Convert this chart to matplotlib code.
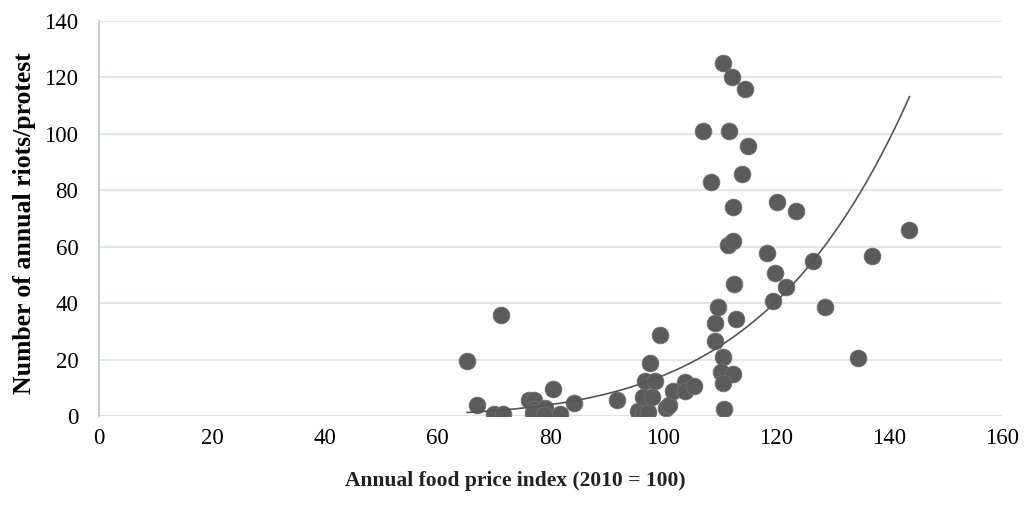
import numpy as np
import matplotlib
matplotlib.use("Agg")
import matplotlib.pyplot as plt

# annual food price index (2010 = 100) vs number of riots/protests
price_index = [
    65.2, 67.0, 69.9, 71.5, 71.2, 76.1, 77.0, 77.0, 76.8, 79.0,
    78.8, 80.5, 81.7, 84.2, 91.8, 95.5, 96.3, 97.2, 96.3, 98.0,
    96.8, 98.5, 97.6, 99.3, 100.5, 100.9, 101.6, 103.8, 103.8, 105.4,
    109.2, 109.1, 110.5, 110.2, 112.3, 110.6, 110.7, 109.7, 112.9, 112.5,
    111.4, 112.3, 112.3, 108.4, 114.0, 115.0, 107.0, 111.6, 110.6, 112.2,
    114.5, 120.1, 123.4, 118.4, 119.7, 121.8, 119.4, 126.5, 128.7, 134.5,
    137.0, 143.6,
]
riots = [
    19.6, 3.8, 0.7, 0.7, 35.7, 5.8, 5.6, 2.5, 1.0, 3.0,
    0.5, 9.5, 0.7, 4.6, 5.5, 1.8, 1.0, 1.5, 6.6, 6.6,
    12.5, 12.5, 18.9, 28.7, 2.7, 3.8, 8.7, 11.9, 8.7, 10.6,
    32.8, 26.5, 20.8, 15.7, 14.8, 11.8, 2.6, 38.7, 34.3, 46.6,
    60.7, 62.1, 73.9, 82.9, 85.8, 95.7, 100.9, 100.9, 124.9, 119.9,
    115.9, 75.9, 72.7, 57.8, 50.8, 45.8, 40.8, 54.8, 38.7, 20.7,
    56.8, 65.8,
]

# power trendline y = a * x^n
TREND_REF_X = 126.5
TREND_REF_Y = 54.9
TREND_POWER = 5.7

GRID = "#dde1e8"
DOT = "#5b5b5b"

plt.rcParams["font.family"] = ["Liberation Serif", "DejaVu Serif"]

fig = plt.figure(figsize=(10.28, 5.07), dpi=100)
ax = fig.add_axes([0.0966, 0.1795, 0.8781, 0.7797])

ax.scatter(price_index, riots, s=145, color=DOT, edgecolors="#707070",
           linewidths=0.6, zorder=3)

tx = np.linspace(min(price_index), max(price_index), 200)
ty = TREND_REF_Y * (tx / TREND_REF_X) ** TREND_POWER
ax.plot(tx, ty, color="#555555", lw=1.2, zorder=4)

ax.set_xlim(0, 160)
ax.set_ylim(0, 140)
ax.set_xticks(range(0, 161, 20))
ax.set_yticks(range(0, 141, 20))
ax.grid(axis="y", color=GRID, lw=1.2, zorder=0)
ax.set_axisbelow(True)

for side in ("top", "right", "bottom"):
    ax.spines[side].set_visible(False)
ax.spines["left"].set_color("#b9c3d4")
ax.spines["left"].set_linewidth(1.2)
ax.axhline(0, color=GRID, lw=1.5, zorder=1)

ax.tick_params(axis="both", length=0, labelsize=16.5, colors="#000000")
ax.tick_params(axis="x", pad=9)
ax.tick_params(axis="y", pad=15)

ax.set_xlabel("Annual food price index (2010 = 100)", fontsize=15.5,
              fontweight="bold", va="center", color="#222222")
ax.xaxis.set_label_coords(0.461, -0.164)
ax.set_ylabel("Number of annual riots/protest", fontsize=18.5,
              fontweight="bold", va="center", ha="center")
ax.yaxis.set_label_coords(-0.083, 0.487)

fig.savefig("out.png", dpi=100, facecolor="white")
